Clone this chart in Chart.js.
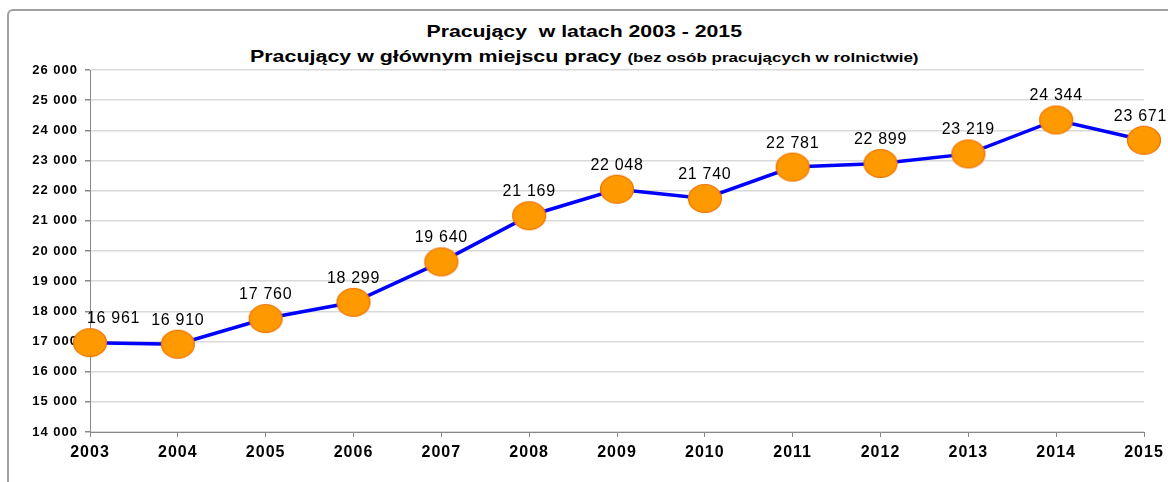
<!DOCTYPE html>
<html>
<head>
<meta charset="utf-8">
<script src="https://cdn.jsdelivr.net/npm/chart.js@4.4.1/dist/chart.umd.min.js"></script>
<style>
    html, body { margin: 0; padding: 0; background: #fff; }
    #wrap { position: relative; width: 1168px; height: 482px; overflow: hidden; }
    #frame {
        position: absolute; left: 7px; top: 9px; width: 1200px; height: 500px;
        border-top: 2px solid #a0a0a0; border-left: 2px solid #a0a0a0;
        border-top-left-radius: 6px; box-sizing: border-box;
    }
    .title {
        position: absolute; left: 0; width: 1168px; text-align: center; white-space: nowrap;
        font-family: "Liberation Sans", Arial, sans-serif; font-weight: bold; color: #000;
        transform-origin: 583px 50%;
    }
    #t1 { top: 22px; font-size: 17px; transform: scaleX(1.25); }
    #t2 { top: 47px; font-size: 17px; transform: scaleX(1.26); }
    #t2 small { font-size: 13.5px; }
    canvas { position: absolute; left: 0; top: 0; }
</style>
</head>
<body>
<div id="wrap">
    <div id="frame"></div>
    <div class="title" id="t1">Pracujący&nbsp; w latach 2003 - 2015</div>
    <div class="title" id="t2">Pracujący w głównym miejscu pracy <small>(bez osób pracujących w rolnictwie)</small></div>
    <canvas id="myChart" width="1168" height="482"></canvas>
</div>
<script>
const years = ['2003', '2004', '2005', '2006', '2007', '2008', '2009', '2010', '2011', '2012', '2013', '2014', '2015'];
const workers = [16961, 16910, 17760, 18299, 19640, 21169, 22048, 21740, 22781, 22899, 23219, 24344, 23671];
const yTicks = [14000, 15000, 16000, 17000, 18000, 19000, 20000, 21000, 22000, 23000, 24000, 25000, 26000];

function fmt(v) {
    return String(v).replace(/\B(?=(\d{3})+(?!\d))/g, ' ');
}

// ellipse marker, a bit wider than tall like in the original
const marker = document.createElement('canvas');
marker.width = 36;
marker.height = 31;
const mctx = marker.getContext('2d');
mctx.beginPath();
mctx.ellipse(18, 15.5, 16.5, 14, 0, 0, Math.PI * 2);
mctx.fillStyle = '#ff9900';
mctx.fill();
mctx.lineWidth = 1.2;
mctx.strokeStyle = '#f07000';
mctx.stroke();

// the original text is a bit wider than the fonts we have
const wideText = {
    id: 'wideText',
    beforeDraw(chart) {
        chart.ctx.letterSpacing = '1px';
    }
};

const valueLabels = {
    id: 'valueLabels',
    afterDatasetsDraw(chart) {
        const c = chart.ctx;
        const area = chart.chartArea;
        const meta = chart.getDatasetMeta(0);
        c.save();
        c.letterSpacing = '0.7px';
        c.font = '16px "Liberation Sans", Arial, sans-serif';
        c.fillStyle = '#000';
        c.textBaseline = 'middle';
        c.textAlign = 'left';
        meta.data.forEach((pt, i) => {
            const txt = fmt(workers[i]);
            const w = c.measureText(txt).width;
            let x = pt.x - w / 2;
            if (x < area.left - 3) x = area.left - 3;
            if (x + w > chart.width - 1) x = chart.width - 1 - w;
            c.fillText(txt, x, pt.y - 24);
        });
        c.restore();
    }
};

const ctx = document.getElementById('myChart').getContext('2d');
const workersChart = new Chart(ctx, {
    type: 'line',
    data: {
        labels: years,
        datasets: [{
            label: 'Pracujący',
            data: workers,
            borderColor: '#0000ff',
            borderWidth: 3.5,
            pointStyle: marker,
            pointRadius: 16,
            pointHoverRadius: 16,
            tension: 0,
            fill: false
        }]
    },
    options: {
        responsive: false,
        animation: false,
        layout: {
            padding: { top: 70, right: 24, bottom: 0, left: 0 }
        },
        plugins: {
            legend: { display: false },
            tooltip: { enabled: false }
        },
        scales: {
            x: {
                offset: false,
                grid: {
                    display: true,
                    drawOnChartArea: false,
                    drawTicks: true,
                    tickLength: 5,
                    color: '#888'
                },
                border: { color: '#888', width: 1 },
                ticks: {
                    color: '#000',
                    maxRotation: 0,
                    padding: 6,
                    font: { family: '"Liberation Sans", Arial, sans-serif', size: 16, weight: 'bold' }
                },
                afterFit(axis) { axis.height = 50; }
            },
            y: {
                min: 14000,
                max: 26000,
                afterBuildTicks(axis) { axis.ticks = yTicks.map(v => ({ value: v })); },
                grid: {
                    color: '#d9d9d9',
                    lineWidth: 1.5,
                    tickLength: 5,
                    tickColor: '#888'
                },
                border: { color: '#888', width: 1 },
                ticks: {
                    color: '#000',
                    padding: 7,
                    callback: v => fmt(v),
                    font: { family: '"Liberation Sans", Arial, sans-serif', size: 13, weight: 'bold' }
                },
                afterFit(axis) { axis.width = 90; }
            }
        }
    },
    plugins: [wideText, valueLabels]
});
</script>
</body>
</html>
